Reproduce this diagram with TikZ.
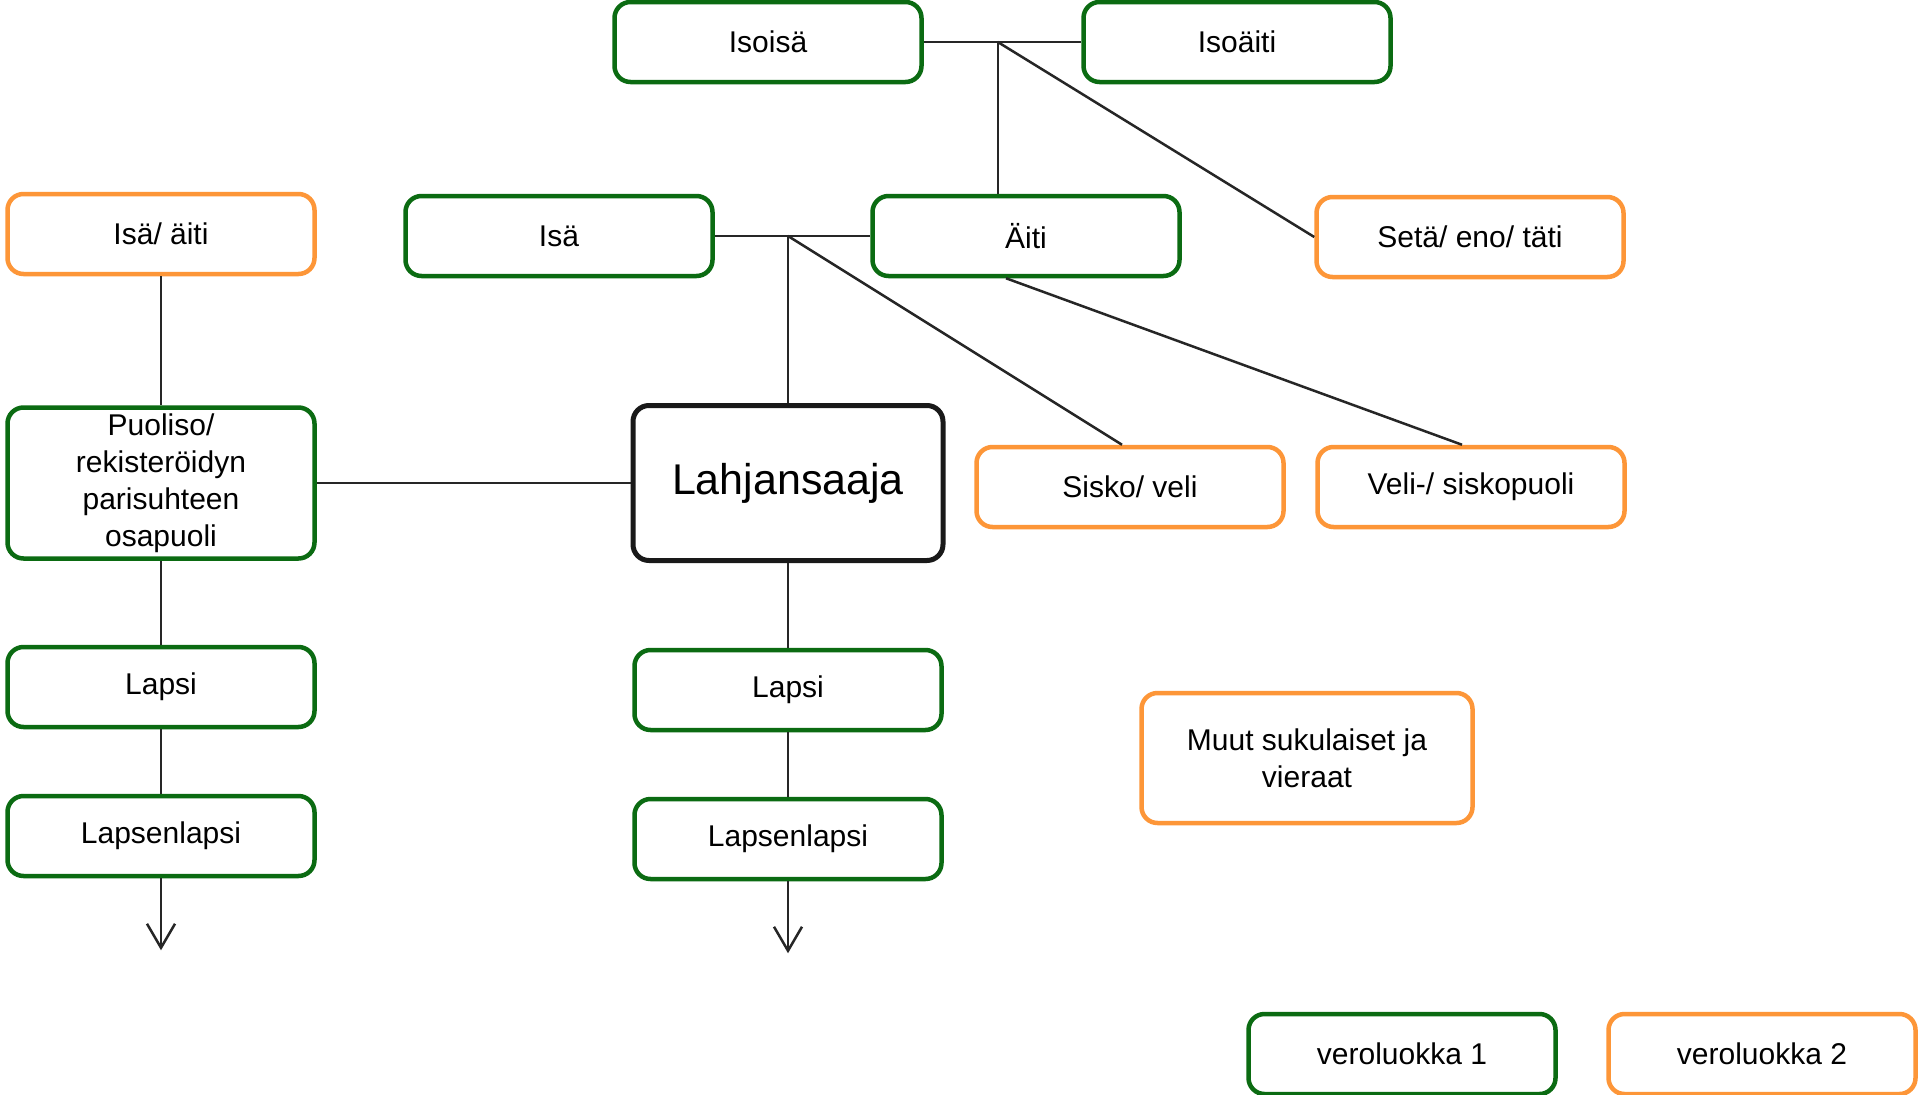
\documentclass[tikz,border=0pt]{standalone}
\usepackage{fontspec}
\setmainfont{Liberation Sans}
\usetikzlibrary{arrows.meta,calc}
\definecolor{vgreen}{HTML}{0B6B12}
\definecolor{vorange}{HTML}{FD9638}
\tikzset{
  box/.style={draw, line width=4.5pt, rounded corners=16pt, fill=white, align=center,
    minimum width=307pt, minimum height=80pt, inner sep=2pt,
    font=\fontsize{30}{37}\selectfont},
  gbox/.style={box, draw=vgreen},
  obox/.style={box, draw=vorange},
  mainbox/.style={box, draw=black!90, line width=5pt, minimum width=310pt, minimum height=155pt,
    font=\fontsize{43}{50}\selectfont},
  conn/.style={draw=black!85, line width=2.5pt},
  arr/.style={conn, -{Straight Barb[length=24pt,width=28pt,line width=2.5pt]}}
}
\begin{document}
\begin{tikzpicture}[x=1pt,y=-1pt]
\fill[white] (0,0) rectangle (1920,1095);
\useasboundingbox (0,0) rectangle (1920,1095);

\node[gbox] (isoisa) at (768,42) {Isoisä};
\node[gbox] (isoaiti) at (1237,42) {Isoäiti};
\node[obox] (isaaiti) at (161,234) {Isä/ äiti};
\node[gbox] (isa) at (559,236) {Isä};
\node[gbox] (aiti) at (1026,236) {Äiti};
\node[obox] (seta) at (1470,237) {Setä/ eno/ täti};
\node[gbox, minimum height=151pt] (puoliso) at (161,483) {Puoliso/\\rekisteröidyn\\parisuhteen\\osapuoli};
\node[mainbox] (lahja) at (788,483) {Lahjansaaja};
\node[obox] (sisko) at (1130,487) {Sisko/ veli};
\node[obox] (veli) at (1471,487) {Veli-/ siskopuoli};
\node[gbox] (lapsi1) at (161,687) {Lapsi};
\node[gbox] (ll1) at (161,836) {Lapsenlapsi};
\node[gbox] (lapsi2) at (788,690) {Lapsi};
\node[gbox] (ll2) at (788,839) {Lapsenlapsi};
\node[obox, minimum width=331pt, minimum height=130pt] (muut) at (1307,758) {Muut sukulaiset ja\\vieraat};
\node[gbox] (vero1) at (1402,1054) {veroluokka 1};
\node[obox] (vero2) at (1762,1054) {veroluokka 2};

\coordinate (j1) at ($(isoisa.east)!0.47!(isoaiti.west)$);
\coordinate (j2) at (lahja.north |- isa.east);
\coordinate (end1) at ($(ll1.south)+(0,72)$);
\coordinate (end2) at ($(ll2.south)+(0,72)$);

\draw[conn] (isoisa.east) -- (isoaiti.west);
\draw[conn] (j1) -- (j1 |- aiti.north);
\draw[conn] (j1) -- (seta.west);
\draw[conn] (isa.east) -- (aiti.west);
\draw[conn] (j2) -- (lahja.north);
\draw[conn] (j2) -- ($(sisko.north)+(-8,0)$);
\draw[conn] ($(aiti.south)+(-20,0)$) -- ($(veli.north)+(-9,0)$);
\draw[conn] (isaaiti.south) -- (puoliso.north);
\draw[conn] (puoliso.east) -- (lahja.west);
\draw[conn] (puoliso.south) -- (lapsi1.north);
\draw[conn] (lapsi1.south) -- (ll1.north);
\draw[conn] (lahja.south) -- (lapsi2.north);
\draw[conn] (lapsi2.south) -- (ll2.north);
\draw[arr] (ll1.south) -- (end1);
\draw[arr] (ll2.south) -- (end2);
\end{tikzpicture}
\end{document}
